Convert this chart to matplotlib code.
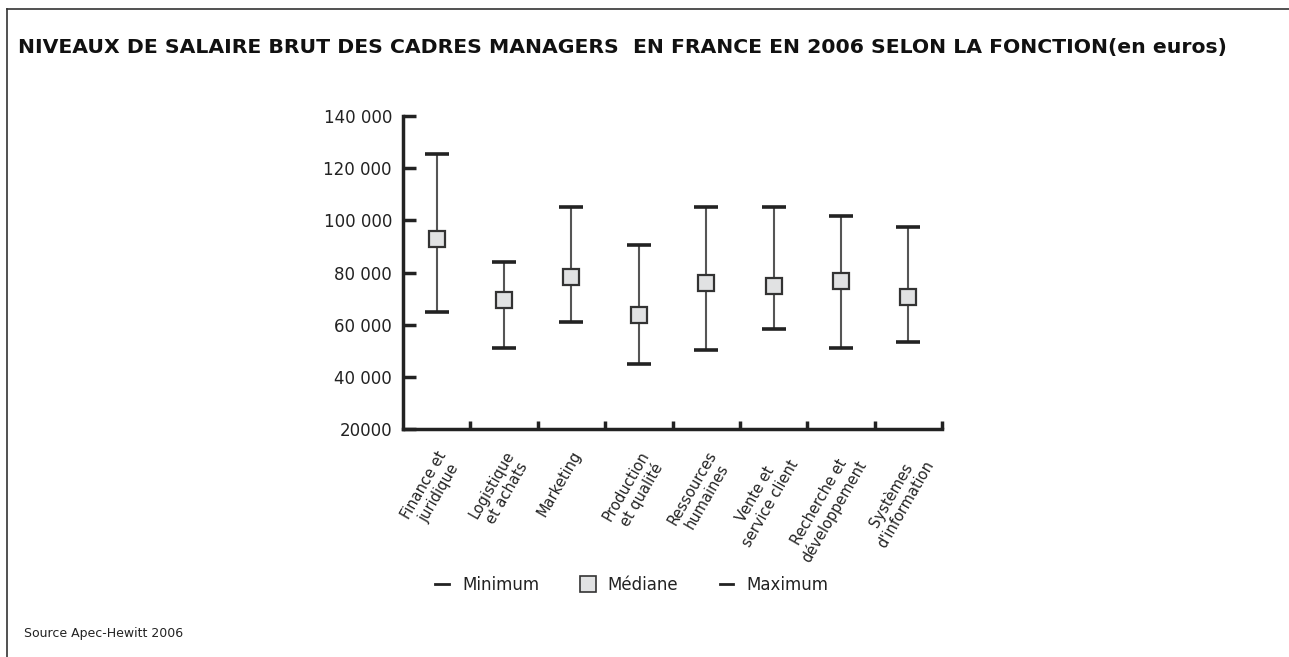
import matplotlib.pyplot as plt
import numpy as np
from matplotlib.lines import Line2D

# functions (x categories)
categories = ["Finance et\njuridique", "Logistique\net achats", "Marketing",
              "Production\net qualité", "Ressources\nhumaines", "Vente et\nservice client",
              "Recherche et\ndéveloppement", "Systèmes\nd'information"]
minimum = [65000, 51000, 61000, 44800, 50400, 58300, 51200, 53300]
mediane = [92700, 69500, 78300, 63800, 76100, 74700, 76900, 70500]
maximum = [125500, 84000, 105000, 90700, 105000, 105000, 101800, 97400]
yticks = [20000, 40000, 60000, 80000, 100000, 120000, 140000]
ytick_labels = ["20000", "40 000", "60 000", "80 000", "100 000", "120 000", "140 000"]

dark = '#222222'

fig = plt.figure(figsize=(12.89, 6.57), dpi=100)
ax = fig.add_axes([403 / 1289, 1 - 429 / 657, 539 / 1289, 313 / 657])

x = np.arange(len(categories))
# whiskers from min to max
ax.vlines(x, minimum, maximum, color='#555555', lw=1.5, zorder=2)
# caps
ax.plot(x, minimum, ls='none', marker='_', ms=17, mew=2.6, color=dark, zorder=3)
ax.plot(x, maximum, ls='none', marker='_', ms=17, mew=2.6, color=dark, zorder=3)
# medians
ax.plot(x, mediane, ls='none', marker='s', ms=12, mfc='#e1e2e3', mec='#333333', mew=1.6, zorder=4)

ax.set_xlim(-0.5, len(categories) - 0.5)
ax.set_ylim(20000, 140000)
ax.set_yticks(yticks)
ax.set_yticklabels(ytick_labels, fontsize=12, color=dark)
ax.tick_params(axis='y', direction='in', length=9.5, width=2.5, color=dark, pad=8)

ax.set_xticks(x)
ax.set_xticklabels(categories, rotation=60, ha='right', va='top', rotation_mode='anchor',
                   fontsize=10.5, color=dark, multialignment='center')
ax.tick_params(axis='x', which='major', length=0, pad=14)
ax.set_xticks(np.arange(0.5, len(categories)), minor=True)
ax.tick_params(axis='x', which='minor', direction='in', length=5.5, width=2.5, color=dark)

for s in ['top', 'right']:
    ax.spines[s].set_visible(False)
for s in ['left', 'bottom']:
    ax.spines[s].set_linewidth(2.5)
    ax.spines[s].set_color(dark)

handles = [
    Line2D([0], [0], color=dark, lw=2),
    Line2D([0], [0], ls='none', marker='s', ms=11, mfc='#e1e2e3', mec='#333333', mew=1.2),
    Line2D([0], [0], color=dark, lw=2),
]
fig.legend(handles, ['Minimum', 'Médiane', 'Maximum'], loc='center', ncol=3,
           bbox_to_anchor=(632 / 1289, 1 - 585 / 657), frameon=False, fontsize=12,
           handlelength=0.8, columnspacing=2.5, handletextpad=0.8, labelcolor=dark)

fig.text(18 / 1289, 1 - 47 / 657,
         "NIVEAUX DE SALAIRE BRUT DES CADRES MANAGERS  EN FRANCE EN 2006 SELON LA FONCTION(en euros)",
         fontsize=14.7, fontweight='bold', va='center', ha='left', color='#111111')
fig.text(24 / 1289, 1 - 633 / 657, "Source Apec-Hewitt 2006", fontsize=9, va='center', color=dark)

# partial frame: top and left
fig.add_artist(Line2D([7 / 1289, 7 / 1289], [0, 1 - 9 / 657], color='#333333', lw=1.2))
fig.add_artist(Line2D([7 / 1289, 1], [1 - 9 / 657, 1 - 9 / 657], color='#333333', lw=1.2))

fig.savefig('out.png', dpi=100)
